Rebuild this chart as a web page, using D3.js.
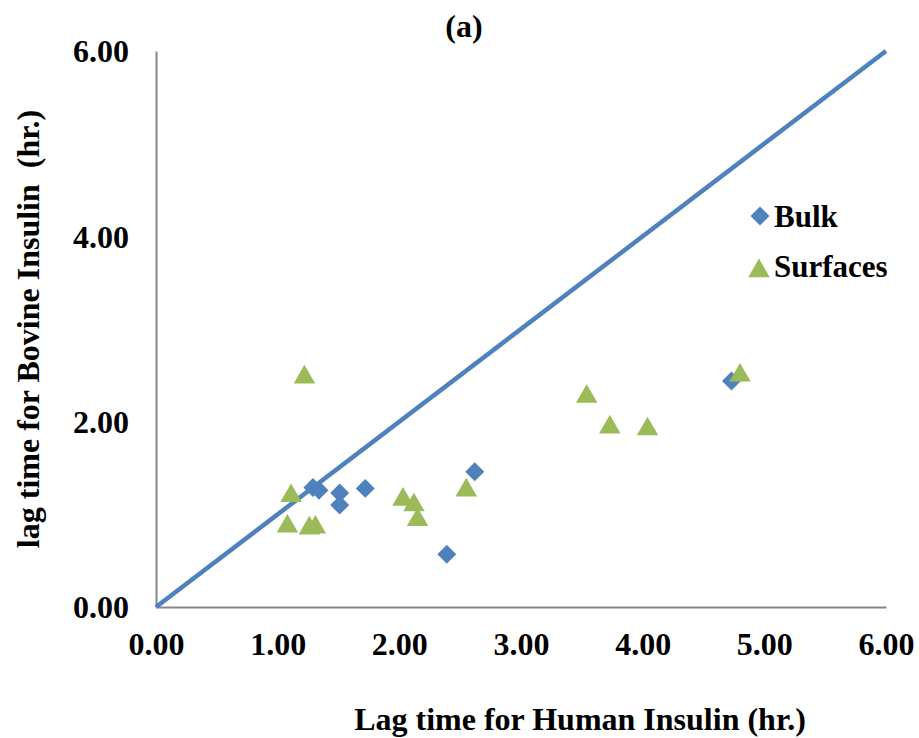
<!DOCTYPE html>
<html>
<head>
<meta charset="utf-8">
<script src="https://cdn.jsdelivr.net/npm/d3@7"></script>
<style>
  body { margin: 0; background: #fff; }
  text { font-family: "Liberation Serif", "Times New Roman", serif; font-weight: bold; fill: #000; }
</style>
</head>
<body>
<div id="chart"></div>
<script>
// Bulk series: lag time human (x) vs bovine (y), hours
const bulkHuman  = [1.29, 1.34, 1.51, 1.51, 1.72, 2.39, 2.62, 4.73];
const bulkBovine = [1.29, 1.26, 1.23, 1.10, 1.28, 0.57, 1.46, 2.44];

// Surfaces series
const surfHuman  = [1.22, 1.11, 1.08, 1.26, 1.31, 2.03, 2.12, 2.15, 2.55, 3.54, 3.73, 4.04, 4.80];
const surfBovine = [2.48, 1.20, 0.87, 0.85, 0.86, 1.16, 1.10, 0.94, 1.26, 2.27, 1.94, 1.92, 2.50];

const xTicks = [0, 1, 2, 3, 4, 5, 6];
const yTicks = [0, 2, 4, 6];
const seriesNames = ["Bulk", "Surfaces"];

const width = 919, height = 738;
const margin = { top: 51, right: 33, bottom: 131, left: 156 };
const w = width - margin.left - margin.right;
const h = height - margin.top - margin.bottom;

const svg = d3.select("#chart")
    .append("svg")
    .attr("width", width)
    .attr("height", height);

const g = svg.append("g")
    .attr("transform", "translate(" + margin.left + "," + margin.top + ")");

const x = d3.scaleLinear().domain([0, 6]).range([0, w]);
const y = d3.scaleLinear().domain([0, 6]).range([h, 0]);

// axes (no tick marks, gray lines)
const xAxis = g.append("g")
    .attr("transform", "translate(0," + h + ")")
    .call(d3.axisBottom(x).tickValues(xTicks).tickSize(0).tickPadding(25).tickFormat(d3.format(".2f")));
const yAxis = g.append("g")
    .call(d3.axisLeft(y).tickValues(yTicks).tickSize(0).tickPadding(27).tickFormat(d3.format(".2f")));

[xAxis, yAxis].forEach(a => {
    a.select(".domain").attr("stroke", "#868686").attr("stroke-width", 2);
    a.selectAll("text")
        .style("font-size", "32px")
        .style("font-family", "'Liberation Serif', serif")
        .style("font-weight", "bold");
});
yAxis.selectAll("text").attr("dy", "0.34em");

// identity line
g.append("line")
    .attr("x1", x(0)).attr("y1", y(0))
    .attr("x2", x(6)).attr("y2", y(6))
    .attr("stroke", "#4F81BD")
    .attr("stroke-width", 4.5);

const bulkData = bulkHuman.map((v, i) => ({ x: v, y: bulkBovine[i] }));
const surfData = surfHuman.map((v, i) => ({ x: v, y: surfBovine[i] }));

const diamond = d3.symbol().type(d3.symbolSquare).size(180);
const triangle = d3.symbol().type(d3.symbolTriangle).size(200);

g.selectAll(".bulk")
    .data(bulkData)
    .enter()
    .append("path")
    .attr("class", "bulk")
    .attr("d", diamond)
    .attr("transform", d => "translate(" + x(d.x) + "," + y(d.y) + ") rotate(45)")
    .attr("fill", "#4F81BD");

g.selectAll(".surf")
    .data(surfData)
    .enter()
    .append("path")
    .attr("class", "surf")
    .attr("d", triangle)
    .attr("transform", d => "translate(" + x(d.x) + "," + y(d.y) + ")")
    .attr("fill", "#9BBB59");

// legend
const legend = svg.append("g");
legend.append("path")
    .attr("d", diamond)
    .attr("transform", "translate(760,216) rotate(45)")
    .attr("fill", "#4F81BD");
legend.append("path")
    .attr("d", triangle)
    .attr("transform", "translate(759,271)")
    .attr("fill", "#9BBB59");
legend.selectAll(".lt")
    .data(seriesNames)
    .enter()
    .append("text")
    .attr("x", 774)
    .attr("y", (d, i) => 227 + i * 50)
    .style("font-size", "31px")
    .text(d => d);

// title
svg.append("text")
    .attr("x", 464)
    .attr("y", 37)
    .attr("text-anchor", "middle")
    .style("font-size", "32px")
    .text("(a)");

// axis titles
svg.append("text")
    .attr("x", 580)
    .attr("y", 730)
    .attr("text-anchor", "middle")
    .style("font-size", "32px")
    .text("Lag time for Human Insulin (hr.)");

svg.append("text")
    .attr("transform", "translate(39,329) rotate(-90)")
    .attr("text-anchor", "middle")
    .style("font-size", "32px")
    .style("white-space", "pre")
    .text("lag time for Bovine Insulin  (hr.)");
</script>
</body>
</html>
